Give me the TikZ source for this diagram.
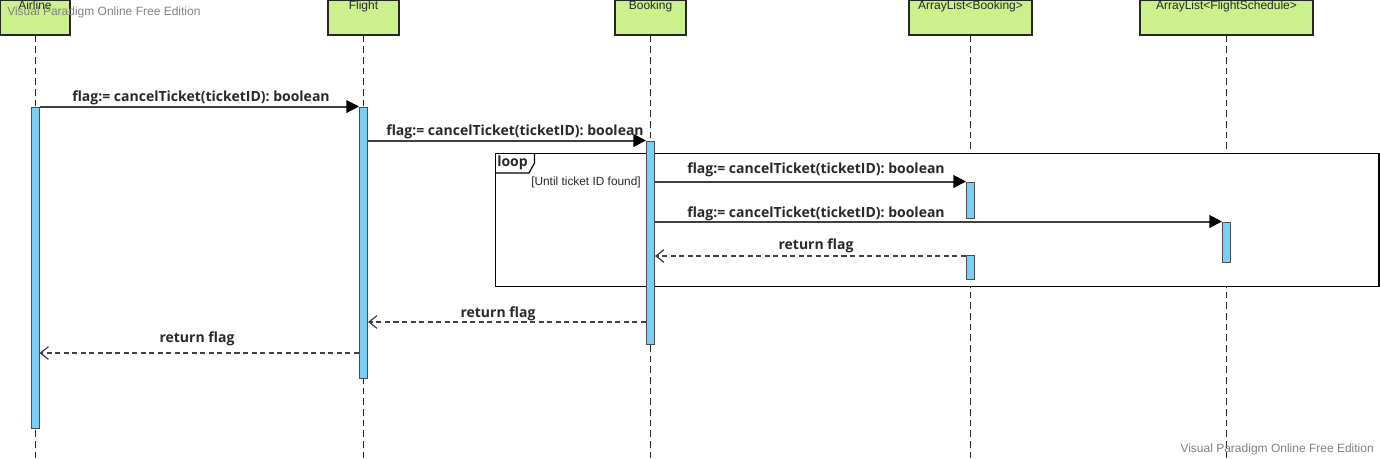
\documentclass[tikz,border=0pt]{standalone}
\usepackage{fontspec}
\setmainfont{Liberation Sans}
\newfontfamily\lblfont{Open Sans}
\usetikzlibrary{arrows.meta,calc}
\definecolor{headfill}{RGB}{204,240,140}
\definecolor{barfill}{RGB}{122,207,245}
\definecolor{msgcol}{RGB}{64,64,64}
\definecolor{txtcol}{RGB}{40,40,40}
\definecolor{wmcol}{RGB}{128,128,128}
\tikzset{
  headbox/.style={draw=black!85,line width=0.9pt,fill=headfill,rectangle,inner sep=0pt,minimum height=26.25pt},
  headtxt/.style={font=\fontsize{9}{10}\selectfont,text=txtcol,inner sep=0pt,anchor=north},
  lifeline/.style={draw=black!85,line width=0.75pt,dash pattern=on 5pt off 3pt},
  actbar/.style={draw=black!70,line width=0.75pt,fill=barfill,rectangle,inner sep=0pt,minimum width=6pt},
  msg/.style={draw=msgcol,line width=1.5pt,-{Triangle[length=9.5pt,width=9.5pt,color=black]}},
  ret/.style={draw=msgcol,line width=1.4pt,dash pattern=on 3.8pt off 2.6pt,-{Straight Barb[length=6pt,width=9.5pt,line width=0.9pt]}},
  msglbl/.style={font=\lblfont\bfseries\fontsize{10.5}{12}\selectfont,text=txtcol,inner sep=0pt},
  wm/.style={font=\fontsize{9}{10}\selectfont,text=wmcol,inner sep=0pt},
  frame/.style={draw=black,line width=0.9pt},
}
\begin{document}
\begin{tikzpicture}[x=0.75pt,y=-0.75pt]
\useasboundingbox (0,0) rectangle (1380,458);
% heads
\node[headbox,minimum width=52.5pt] (hA) at (35,17.5) {};
\node[headbox,minimum width=53.25pt] (hF) at (363.5,17.5) {};
\node[headbox,minimum width=53.25pt] (hB) at (650.5,17.5) {};
\node[headbox,minimum width=92.25pt] (hL) at (970.5,17.5) {};
\node[headbox,minimum width=129.75pt] (hS) at (1226.5,17.5) {};
\node[headtxt] (tA) at (35,0.5) {Airline};
\node[headtxt] (tF) at (363.5,0.5) {Flight};
\node[headtxt] (tB) at (650.5,0.5) {Booking};
\node[headtxt] (tL) at (970.5,0.5) {ArrayList<Booking>};
\node[headtxt] (tS) at (1226.5,0.5) {ArrayList<FlightSchedule>};
% lifeline ends
\coordinate (eA) at (35,458);
\coordinate (eF) at (363.5,458);
\coordinate (eB) at (650.5,458);
\coordinate (eL) at (970.5,458);
\coordinate (eS) at (1226.5,458);
\draw[lifeline] (hA.south) -- (eA);
\draw[lifeline] (hF.south) -- (eF);
\draw[lifeline] (hB.south) -- (eB);
\draw[lifeline] (hL.south) -- (eL);
\draw[lifeline] (hS.south) -- (eS);
% loop frame
\draw[frame,fill=white] (495.5,153.5) rectangle (1379,286.5);
\coordinate (lt1) at (495.5,173);
\coordinate (lt2) at (529,173);
\coordinate (lt3) at (534.5,163);
\coordinate (lt4) at (534.5,153.5);
\draw[frame] (lt1) -- (lt2) -- (lt3) -- (lt4);
\node[msglbl,anchor=west] (loopl) at (497,162.5) {loop};
\node[font=\fontsize{8.9}{10}\selectfont,text=txtcol,inner sep=0pt,anchor=east] (guard) at (641,182.5) {[Until ticket ID found]};
% activation bars
\node[actbar,minimum height=240.75pt] (bA) at (35,267.5) {};
\node[actbar,minimum height=203.25pt] (bF) at (363.5,242.5) {};
\node[actbar,minimum height=152.25pt] (bB) at (650.5,242.5) {};
\node[actbar,minimum height=27pt] (bL1) at (970.5,200) {};
\node[actbar,minimum height=18pt] (bL2) at (970.5,267) {};
\node[actbar,minimum height=30pt] (bS) at (1226.5,242) {};
% level coordinates
\coordinate (y5) at (0,256);
\coordinate (y6) at (0,322);
\coordinate (y7) at (0,353);
% messages
\draw[msg] (bA.north east) -- (bF.north west);
\draw[msg] (bF.east |- bB.north) -- (bB.north west);
\draw[msg] (bB.east |- bL1.north) -- (bL1.north west);
\draw[msg] (bB.east |- bS.north) -- (bS.north west);
\draw[ret] (bL2.west |- y5) -- (bB.east |- y5);
\draw[ret] (bB.west |- y6) -- (bF.east |- y6);
\draw[ret] (bF.west |- y7) -- (bA.east |- y7);
% labels
\node[msglbl] (m1) at (201,97.5) {flag:= cancelTicket(ticketID): boolean};
\node[msglbl] (m2) at (515,131.5) {flag:= cancelTicket(ticketID): boolean};
\node[msglbl] (m3) at (816,170) {flag:= cancelTicket(ticketID): boolean};
\node[msglbl] (m4) at (816,213.5) {flag:= cancelTicket(ticketID): boolean};
\node[msglbl] (m5) at (816,245.5) {return flag};
\node[msglbl] (m6) at (498,313.5) {return flag};
\node[msglbl] (m7) at (197,338.5) {return flag};
% watermarks
\node[wm,anchor=west] (w1) at (7,12) {Visual Paradigm Online Free Edition};
\node[wm,anchor=east] (w2) at (1374,449) {Visual Paradigm Online Free Edition};
\end{tikzpicture}
\end{document}
